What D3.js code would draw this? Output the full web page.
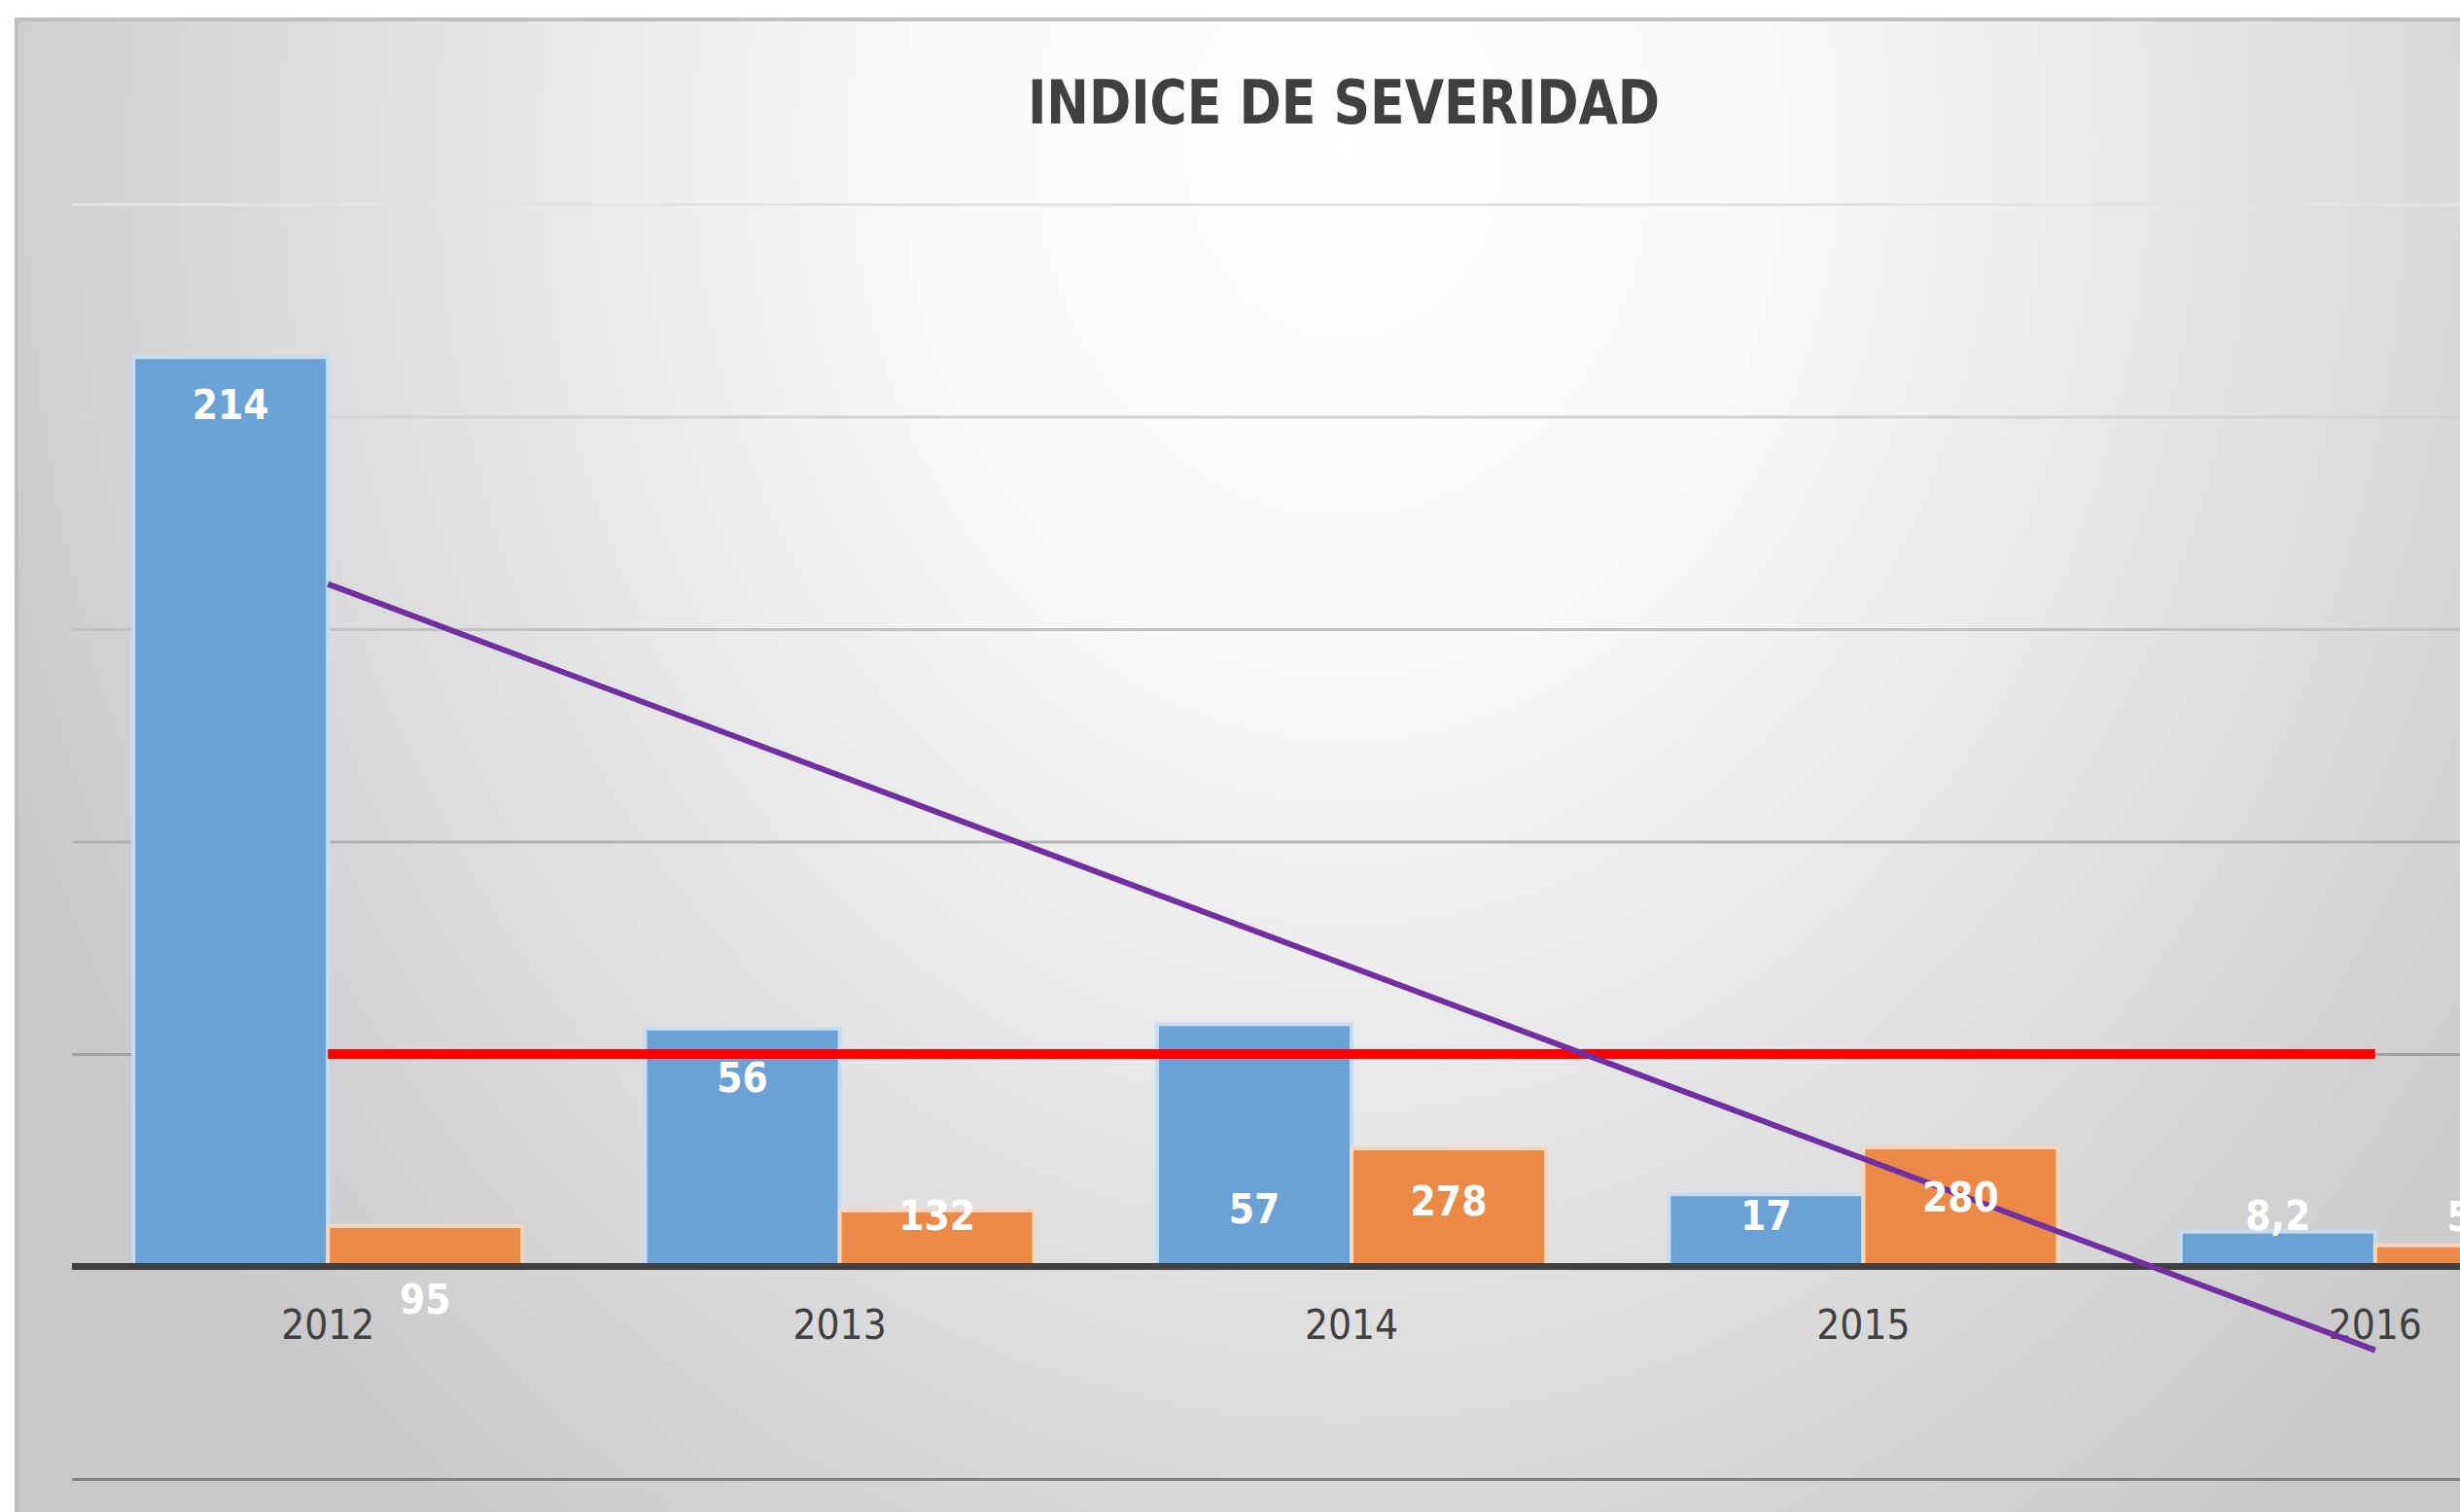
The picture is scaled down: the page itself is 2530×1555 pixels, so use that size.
<!DOCTYPE html>
<html>
<head>
<meta charset="utf-8">
<script src="https://cdn.jsdelivr.net/npm/d3@7"></script>
<style>
  html, body { margin: 0; padding: 0; background: #ffffff; overflow: hidden; }
  svg { display: block; }
</style>
</head>
<body>
<svg id="chart" width="2530" height="1555"></svg>
<script>
// ---------- data ----------
const title = "INDICE DE SEVERIDAD";
const years = ["2012", "2013", "2014", "2015", "2016"];
const seriesBlue = [214, 56, 57, 17, 8.2];        // primary axis
const seriesOrange = [95, 132, 278, 280, 50];     // secondary axis (hidden)
const seriesMeta = [50, 50, 50, 50, 50];          // red reference line
const trendYears = ["2012", "2016"];
const trendValues = [160.6, -19.7];               // linear trend of blue series
const primaryTicks = [-50, 0, 50, 100, 150, 200, 250];

// ---------- layout / style (not data) ----------
const W = 2530, H = 1555;
const plot = { left: 74, right: 2706, top: 210, bottom: 1521 };
const blueLabelDy = [49, 50, 189, 22, -17];
const orangeLabelDy = [75, 5, 54, 51, -30];
const FONT = "'Liberation Sans Narrow', 'DejaVu Sans Condensed', 'Liberation Sans', sans-serif";

const svg = d3.select("#chart");
const defs = svg.append("defs");

const grad = defs.append("radialGradient")
  .attr("id", "bg")
  .attr("gradientUnits", "userSpaceOnUse")
  .attr("cx", 0).attr("cy", 0).attr("r", 1)
  .attr("gradientTransform", "translate(1382,150) scale(1500,1800)");
grad.append("stop").attr("offset", 0).attr("stop-color", "#ffffff");
grad.append("stop").attr("offset", 0.3).attr("stop-color", "#f8f8f8");
grad.append("stop").attr("offset", 1).attr("stop-color", "#c9c9c9");

// chart frame
svg.append("rect")
  .attr("x", 17).attr("y", 20)
  .attr("width", 2760).attr("height", 1600)
  .attr("fill", "url(#bg)")
  .attr("stroke", "#bfbfbf").attr("stroke-width", 4);

// title
svg.append("text")
  .attr("x", 1382).attr("y", 127)
  .attr("text-anchor", "middle")
  .attr("font-family", FONT)
  .attr("font-weight", "bold")
  .attr("font-size", 62)
  .attr("textLength", 650)
  .attr("lengthAdjust", "spacingAndGlyphs")
  .attr("fill", "#404040")
  .text(title);

// ---------- scales ----------
const x = d3.scaleBand().domain(years)
  .range([plot.left, plot.right])
  .paddingInner(0.24).paddingOuter(0.12);
const xSub = d3.scaleBand().domain(["blue", "orange"]).range([0, x.bandwidth()]);
const y = d3.scaleLinear().domain([-50, 250]).range([plot.bottom, plot.top]);
const y2 = d3.scaleLinear().domain([-500, 2500]).range([plot.bottom, plot.top]);
const cx = d => x(d) + x.bandwidth() / 2;

// gridlines (color darkens towards the bottom)
const gridColor = d3.scaleLinear().domain([plot.top, plot.bottom]).range(["#e3e3e3", "#808080"]);
const gridAxis = d3.axisLeft(y).tickValues(primaryTicks.filter(t => t !== 0))
  .tickSize(-(plot.right - plot.left)).tickFormat("");
const gg = svg.append("g").attr("transform", `translate(${plot.left},0)`).call(gridAxis);
gg.select(".domain").remove();
gg.selectAll(".tick line")
  .attr("stroke", d => gridColor(y(d)))
  .attr("stroke-width", 3);

// bars
const bars = svg.append("g");
bars.selectAll("rect.blue").data(years).join("rect")
  .attr("class", "blue")
  .attr("x", d => x(d) + xSub("blue"))
  .attr("width", xSub.bandwidth())
  .attr("y", (d, i) => y(seriesBlue[i]))
  .attr("height", (d, i) => y(0) - y(seriesBlue[i]))
  .attr("fill", "#6aa2d5")
  .attr("stroke", "#c8dcef").attr("stroke-width", 4);
bars.selectAll("rect.orange").data(years).join("rect")
  .attr("class", "orange")
  .attr("x", d => x(d) + xSub("orange"))
  .attr("width", xSub.bandwidth())
  .attr("y", (d, i) => y2(seriesOrange[i]))
  .attr("height", (d, i) => y2(0) - y2(seriesOrange[i]))
  .attr("fill", "#eb8a48")
  .attr("stroke", "#f6d6be").attr("stroke-width", 4);

// x axis
const xAxis = d3.axisBottom(x).tickSize(0).tickPadding(0);
const xg = svg.append("g").attr("transform", `translate(0,${y(0)})`).call(xAxis);
xg.select(".domain").attr("stroke", "#404040").attr("stroke-width", 7)
  .attr("d", `M${plot.left},0H${plot.right}`);
xg.selectAll(".tick text")
  .attr("font-family", FONT)
  .attr("font-size", 42)
  .attr("fill", "#404040")
  .attr("dy", null)
  .attr("y", 74);

// red meta line
const line = d3.line().x(d => cx(d.year)).y(d => y(d.value));
svg.append("path")
  .datum(years.map((yr, i) => ({ year: yr, value: seriesMeta[i] })))
  .attr("d", line)
  .attr("fill", "none")
  .attr("stroke", "#ff0000")
  .attr("stroke-width", 10);

// purple trend line
svg.append("path")
  .datum(trendYears.map((yr, i) => ({ year: yr, value: trendValues[i] })))
  .attr("d", line)
  .attr("fill", "none")
  .attr("stroke", "#7030a0")
  .attr("stroke-width", 6);

// data labels
const fmt = d3.formatLocale({ decimal: ",", thousands: ".", grouping: [3], currency: ["", "€"] }).format("~g");
const lbl = svg.append("g")
  .attr("font-family", FONT)
  .attr("font-size", 42)
  .attr("font-weight", "bold")
  .attr("fill", "#ffffff")
  .attr("text-anchor", "middle");
lbl.selectAll("text.b").data(years).join("text")
  .attr("class", "b")
  .attr("x", d => x(d) + xSub("blue") + xSub.bandwidth() / 2)
  .attr("y", (d, i) => y(seriesBlue[i]) + blueLabelDy[i])
  .attr("dy", "0.36em")
  .text((d, i) => fmt(seriesBlue[i]));
lbl.selectAll("text.o").data(years).join("text")
  .attr("class", "o")
  .attr("x", d => x(d) + xSub("orange") + xSub.bandwidth() / 2)
  .attr("y", (d, i) => y2(seriesOrange[i]) + orangeLabelDy[i])
  .attr("dy", "0.36em")
  .text((d, i) => fmt(seriesOrange[i]));
</script>
</body>
</html>
